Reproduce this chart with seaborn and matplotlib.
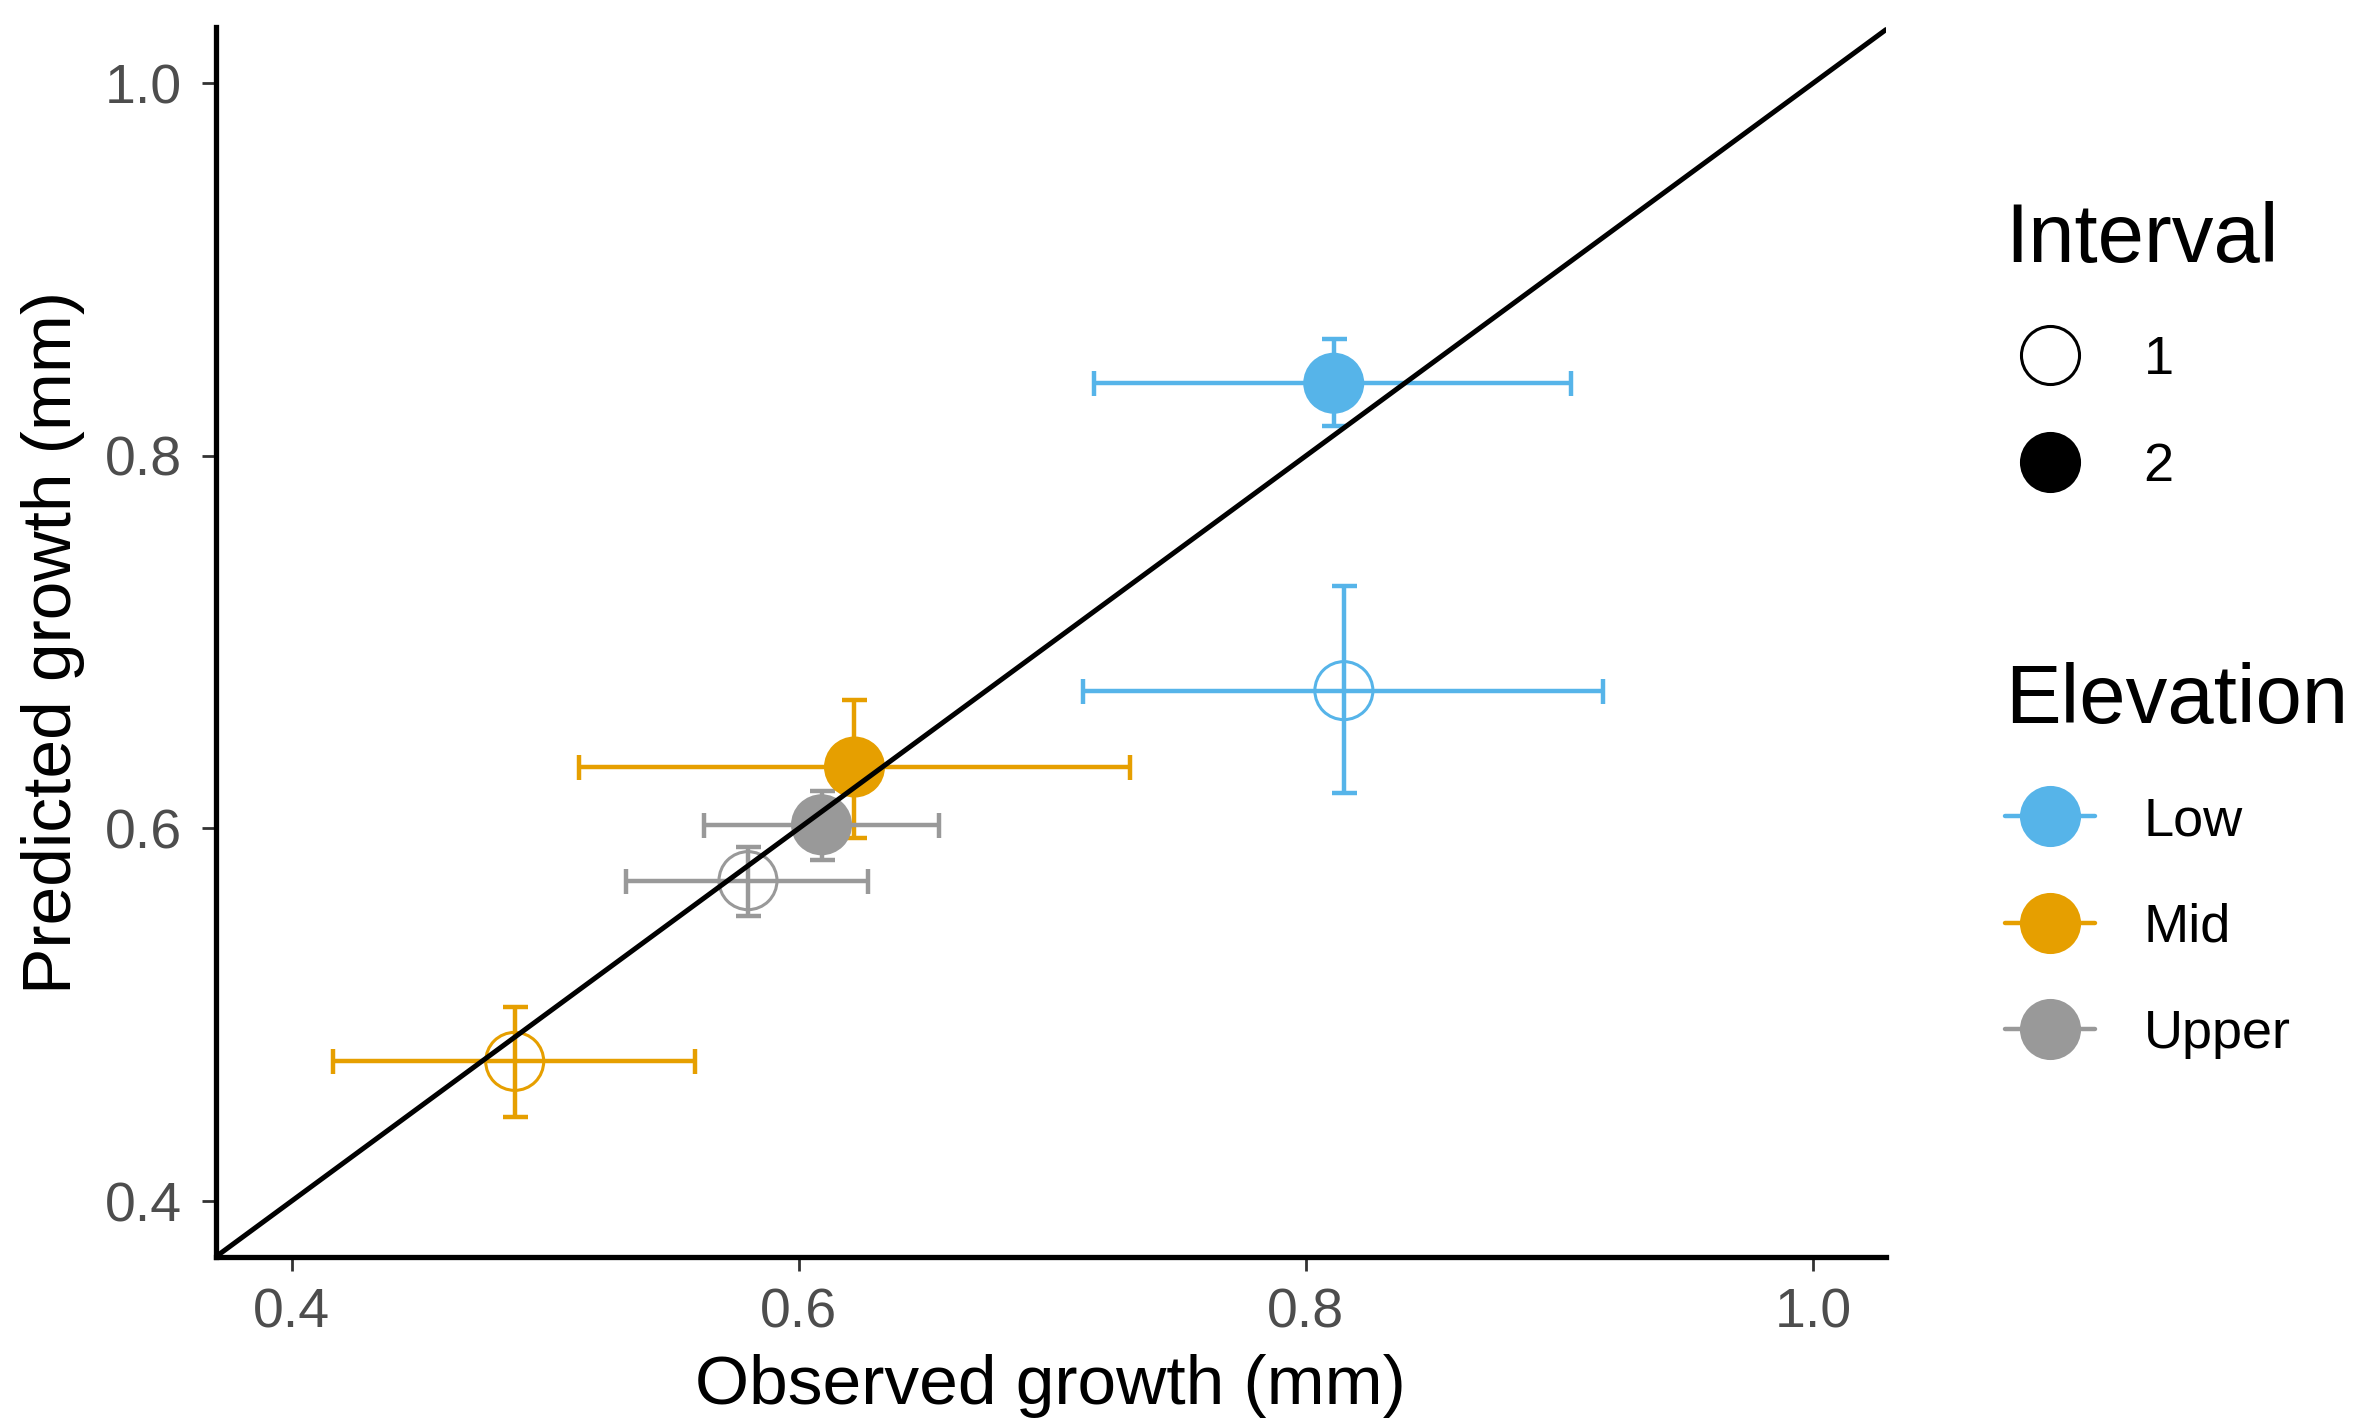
import matplotlib
matplotlib.use("Agg")
import matplotlib.pyplot as plt
from matplotlib.lines import Line2D
import pandas as pd
import seaborn as sns

# Observed vs predicted growth per elevation band and census interval
elevation = ["Low", "Low", "Mid", "Mid", "Upper", "Upper"]
interval = [1, 2, 1, 2, 1, 2]
observed = [0.815, 0.811, 0.488, 0.622, 0.580, 0.609]
observed_lo = [0.712, 0.7165, 0.4164, 0.5133, 0.532, 0.5625]
observed_hi = [0.917, 0.9046, 0.5591, 0.7307, 0.6275, 0.6554]
predicted = [0.674, 0.839, 0.475, 0.633, 0.572, 0.602]
predicted_lo = [0.619, 0.816, 0.445, 0.595, 0.553, 0.583]
predicted_hi = [0.730, 0.8625, 0.504, 0.669, 0.590, 0.620]

elevation_levels = ["Low", "Mid", "Upper"]
palette = {"Low": "#56B4E9", "Mid": "#E69F00", "Upper": "#999999"}
tick_values = [0.4, 0.6, 0.8, 1.0]
tick_labels = ["0.4", "0.6", "0.8", "1.0"]

df = pd.DataFrame({
    "Elevation": elevation,
    "Interval": interval,
    "Observed": observed,
    "ObsLo": observed_lo,
    "ObsHi": observed_hi,
    "Predicted": predicted,
    "PredLo": predicted_lo,
    "PredHi": predicted_hi,
})

sns.set_theme(style="ticks")
plt.rcParams["font.family"] = ["Liberation Sans", "DejaVu Sans"]

W, H = 2360, 1426
fig = plt.figure(figsize=(W / 200, H / 200), dpi=200)
left, right, bottom, top = 215.5, 1886, 1257, 27
ax = fig.add_axes([left / W, 1 - bottom / H, (right - left) / W, (bottom - top) / H])

# Error bars (both directions)
for _, r in df.iterrows():
    ax.errorbar(
        r["Observed"], r["Predicted"],
        xerr=[[r["Observed"] - r["ObsLo"]], [r["ObsHi"] - r["Observed"]]],
        yerr=[[r["Predicted"] - r["PredLo"]], [r["PredHi"] - r["Predicted"]]],
        fmt="none", ecolor=palette[r["Elevation"]], elinewidth=1.6,
        capsize=4.5, capthick=1.6, zorder=2,
    )

# Interval 2: filled points
sns.scatterplot(
    data=df[df["Interval"] == 2], x="Observed", y="Predicted",
    hue="Elevation", hue_order=elevation_levels, palette=palette,
    s=482, linewidth=0, legend=False, ax=ax, zorder=3,
)

# Interval 1: hollow points
sns.scatterplot(
    data=df[df["Interval"] == 1], x="Observed", y="Predicted",
    hue="Elevation", hue_order=elevation_levels, palette=palette,
    s=436, legend=False, ax=ax, zorder=3,
)
hollow = ax.collections[-1]
hollow.set_edgecolors(hollow.get_facecolors())
hollow.set_facecolors("none")
hollow.set_linewidth(1.1)

# 1:1 reference line
ax.axline((0.5, 0.5), (1.0, 1.0), color="black", lw=1.8, zorder=4)

ax.set_xlim(0.37, 1.0288)
ax.set_ylim(0.37, 1.0302)
ax.set_xticks(tick_values, tick_labels)
ax.set_yticks(tick_values, tick_labels)

for side in ["top", "right"]:
    ax.spines[side].set_visible(False)
for side in ["left", "bottom"]:
    ax.spines[side].set_linewidth(1.9)
    ax.spines[side].set_color("black")

ax.tick_params(axis="both", length=5, width=1.0, color="#333333",
               labelsize=20, labelcolor="#4d4d4d")
ax.tick_params(axis="x", pad=6)
ax.tick_params(axis="y", pad=7)

ax.set_xlabel("Observed growth (mm)", fontsize=25, color="black", va="center")
ax.set_ylabel("Predicted growth (mm)", fontsize=25, color="black", va="center")
ax.xaxis.set_label_coords(0.5, -(1386 - bottom) / (bottom - top))
ax.yaxis.set_label_coords(-(left - 53) / (right - left), 0.5)

# Legends
interval_handles = [
    Line2D([], [], linestyle="none", marker="o", markersize=20.9,
           markerfacecolor="none", markeredgecolor="black", markeredgewidth=1.1),
    Line2D([], [], linestyle="none", marker="o", markersize=22,
           markerfacecolor="black", markeredgewidth=0),
]
leg_kw = dict(loc="upper left", frameon=False, fontsize=19.5, title_fontsize=30,
              alignment="left", handlelength=1.67, handletextpad=0.89,
              labelspacing=1.04, borderpad=0, borderaxespad=0,
              labelcolor="black")
leg1 = fig.legend(interval_handles, ["1", "2"], title="Interval",
                  bbox_to_anchor=(2005 / W, 1 - 201 / H), **leg_kw)
leg1.get_title().set_color("black")

elev_handles = [
    Line2D([], [], color=palette[e], lw=1.6, marker="o", markersize=22,
           markeredgewidth=0)
    for e in elevation_levels
]
leg2 = fig.legend(elev_handles, elevation_levels, title="Elevation",
                  bbox_to_anchor=(2005 / W, 1 - 662 / H), **leg_kw)
leg2.get_title().set_color("black")

fig.savefig("out.png", dpi=200, facecolor="white")
